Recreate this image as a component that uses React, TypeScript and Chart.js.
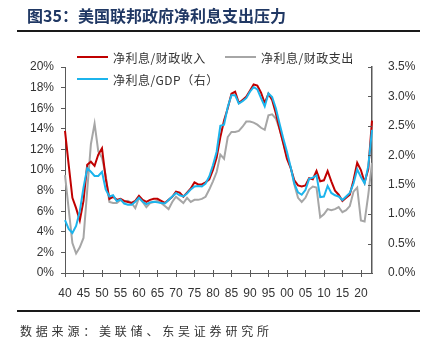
import React, { useEffect, useRef } from 'react';
import { Chart, registerables } from 'chart.js';

Chart.register(...registerables);

// ---- data ----
const years = [
  1940, 1941, 1942, 1943, 1944, 1945, 1946, 1947, 1948, 1949,
  1950, 1951, 1952, 1953, 1954, 1955, 1956, 1957, 1958, 1959,
  1960, 1961, 1962, 1963, 1964, 1965, 1966, 1967, 1968, 1969,
  1970, 1971, 1972, 1973, 1974, 1975, 1976, 1977, 1978, 1979,
  1980, 1981, 1982, 1983, 1984, 1985, 1986, 1987, 1988, 1989,
  1990, 1991, 1992, 1993, 1994, 1995, 1996, 1997, 1998, 1999,
  2000, 2001, 2002, 2003, 2004, 2005, 2006, 2007, 2008, 2009,
  2010, 2011, 2012, 2013, 2014, 2015, 2016, 2017, 2018, 2019,
  2020, 2021, 2022, 2023,
];

// 净利息/财政收入 (%), left axis
const interestToReceipts = [
  13.8, 10.5, 7.3, 6.3, 5.1, 7.0, 10.5, 10.8, 10.4, 11.5,
  12.1, 9.2, 7.2, 7.4, 7.1, 7.2, 7.0, 6.9, 6.8, 7.0,
  7.5, 7.1, 6.9, 7.1, 7.2, 7.2, 7.0, 6.8, 7.1, 7.4,
  7.9, 7.8, 7.4, 7.8, 8.2, 8.8, 8.6, 8.6, 8.8, 9.1,
  10.0, 11.2, 13.2, 14.8, 16.0, 17.4, 17.6, 16.5, 16.8, 17.1,
  17.7, 18.3, 18.2, 17.5, 16.5, 17.4, 16.8, 15.5, 14.0, 12.6,
  11.1, 10.2, 9.0, 8.5, 8.4, 8.5, 9.2, 9.1, 9.9, 8.9,
  9.0, 9.9, 8.9, 8.0, 7.6, 7.0, 7.3, 7.6, 9.0, 10.7,
  10.0, 8.8, 10.1, 14.8,
];

// 净利息/财政支出 (%), left axis
const interestToOutlays = [
  9.5, 6.2, 2.9, 1.9, 2.5, 3.4, 8.0, 12.5, 14.5, 11.8,
  11.2, 9.5, 6.9, 6.8, 6.8, 7.1, 6.9, 7.0, 6.8, 6.3,
  7.3, 6.9, 6.4, 6.8, 6.9, 7.0, 6.8, 6.5, 6.2, 6.9,
  7.4, 7.1, 6.8, 7.3, 6.9, 7.1, 7.1, 7.2, 7.4, 8.1,
  8.9, 9.8, 11.5, 11.1, 13.2, 13.7, 13.7, 13.8, 14.2, 14.7,
  14.7, 14.6, 14.4, 14.1, 13.9, 15.3, 15.4, 15.0, 14.0, 12.7,
  11.3, 10.3, 8.6, 7.3, 6.9, 7.3, 8.1, 8.4, 8.3, 5.4,
  5.7, 6.2, 6.1, 6.2, 6.4, 5.9, 6.1, 6.5, 7.9, 8.3,
  5.1, 5.0, 7.6, 10.7,
];

// 净利息/GDP (%), right axis
const interestToGdp = [
  0.90, 0.75, 0.68, 0.80, 1.05, 1.45, 1.78, 1.72, 1.65, 1.65,
  1.72, 1.42, 1.30, 1.32, 1.22, 1.25, 1.18, 1.16, 1.16, 1.21,
  1.28, 1.21, 1.17, 1.20, 1.21, 1.20, 1.19, 1.18, 1.24, 1.30,
  1.36, 1.32, 1.30, 1.35, 1.42, 1.47, 1.48, 1.47, 1.52, 1.64,
  1.83, 2.06, 2.50, 2.52, 2.82, 3.02, 3.02, 2.88, 2.92, 2.97,
  3.08, 3.16, 3.12, 2.97, 2.83, 3.05, 2.99, 2.80, 2.54, 2.29,
  2.06, 1.80, 1.52, 1.37, 1.33, 1.41, 1.60, 1.62, 1.66, 1.29,
  1.30, 1.48, 1.36, 1.32, 1.30, 1.24, 1.30, 1.36, 1.52, 1.76,
  1.63, 1.52, 1.82, 2.43,
];

const seriesNames = ['净利息/财政收入', '净利息/财政支出', '净利息/GDP（右）'];
const leftTicks = [0, 2, 4, 6, 8, 10, 12, 14, 16, 18, 20];
const rightTicks = [0, 0.5, 1.0, 1.5, 2.0, 2.5, 3.0, 3.5];

const titleText = '图35：美国联邦政府净利息支出压力';
const sourceText = '数据来源：美联储、东吴证券研究所';

// ---- styles ----
const RED = '#C00000';
const GRAY = '#A6A6A6';
const BLUE = '#1CB4EC';
const AXIS = '#595959';
const TEXT = '#333333';
const W = 426;
const H = 340;
const PLOT_LEFT = 65;
const PLOT_RIGHT = 372;
const PLOT_TOP = 67;
const PLOT_BOTTOM = 273;
const CJK = '"Noto Sans CJK SC", "Noto Sans", sans-serif';
const LATIN = '"Liberation Sans", Arial, sans-serif';

const legendLayout = [
  { x: 77, y: 57 },
  { x: 225, y: 57 },
  { x: 77, y: 79 },
];
const legendColors = [RED, GRAY, BLUE];

const overlayPlugin = {
  id: 'overlay',
  afterDraw(chart: any) {
    const ctx = chart.ctx as CanvasRenderingContext2D;
    const xs = chart.scales.x;
    const yr = chart.scales.y1;
    ctx.save();
    ctx.strokeStyle = AXIS;
    ctx.lineWidth = 1;
    // x axis crossing ticks every 5 years
    years.forEach((yv, i) => {
      if (yv % 5 === 0) {
        const px = Math.round(xs.getPixelForValue(i)) + 0.5;
        ctx.beginPath();
        ctx.moveTo(px, PLOT_BOTTOM - 3);
        ctx.lineTo(px, PLOT_BOTTOM + 4);
        ctx.stroke();
      }
    });
    // right axis inward ticks
    rightTicks.forEach((v) => {
      const py = Math.round(yr.getPixelForValue(v)) + 0.5;
      ctx.beginPath();
      ctx.moveTo(yr.left - 4, py);
      ctx.lineTo(yr.left, py);
      ctx.stroke();
    });
    // legend
    ctx.font = `12px ${CJK}`;
    (ctx as any).letterSpacing = '0.5px';
    ctx.textBaseline = 'middle';
    ctx.textAlign = 'left';
    seriesNames.forEach((name, i) => {
      const { x, y } = legendLayout[i];
      ctx.strokeStyle = legendColors[i];
      ctx.lineWidth = 2;
      ctx.beginPath();
      ctx.moveTo(x, y);
      ctx.lineTo(x + 31, y);
      ctx.stroke();
      ctx.fillStyle = TEXT;
      ctx.fillText(name, x + 36, y + 1);
    });
    ctx.restore();
  },
};

export default function App() {
  const canvasRef = useRef<HTMLCanvasElement | null>(null);

  useEffect(() => {
    if (!canvasRef.current) return;
    const chart = new Chart(canvasRef.current, {
      type: 'line',
      data: {
        labels: years,
        datasets: [
          {
            label: seriesNames[0],
            data: interestToReceipts,
            borderColor: RED,
            backgroundColor: RED,
            borderWidth: 2,
            pointRadius: 0,
            tension: 0,
            yAxisID: 'y',
            order: 1,
          },
          {
            label: seriesNames[1],
            data: interestToOutlays,
            borderColor: GRAY,
            backgroundColor: GRAY,
            borderWidth: 2,
            pointRadius: 0,
            tension: 0,
            yAxisID: 'y',
            order: 2,
          },
          {
            label: seriesNames[2],
            data: interestToGdp,
            borderColor: BLUE,
            backgroundColor: BLUE,
            borderWidth: 2,
            pointRadius: 0,
            tension: 0,
            yAxisID: 'y1',
            order: 0,
          },
        ],
      },
      options: {
        animation: false,
        responsive: true,
        maintainAspectRatio: false,
        layout: { padding: { top: PLOT_TOP, left: 0, right: 0, bottom: 0 } },
        plugins: {
          legend: { display: false },
          tooltip: { enabled: false },
          title: { display: false },
        },
        scales: {
          x: {
            type: 'category',
            offset: false,
            grid: { display: false },
            border: { display: true, color: AXIS, width: 1 },
            ticks: {
              autoSkip: false,
              maxRotation: 0,
              minRotation: 0,
              padding: 5,
              color: TEXT,
              font: { family: LATIN, size: 12 },
              callback: (_v: any, i: number) =>
                years[i] % 5 === 0 ? String(years[i]).slice(-2) : '',
            },
            afterFit: (s: any) => {
              s.height = H - PLOT_BOTTOM;
            },
          },
          y: {
            position: 'left',
            min: 0,
            max: 20,
            afterBuildTicks: (s: any) => {
              s.ticks = leftTicks.map((v) => ({ value: v }));
            },
            grid: {
              display: true,
              drawOnChartArea: false,
              drawTicks: true,
              tickLength: 4,
              color: AXIS,
            },
            border: { display: true, color: AXIS, width: 1 },
            ticks: {
              padding: 7,
              color: TEXT,
              font: { family: LATIN, size: 12 },
              callback: (v: any) => `${v}%`,
            },
            afterFit: (s: any) => {
              s.width = PLOT_LEFT;
            },
          },
          y1: {
            position: 'right',
            min: 0,
            max: 3.5,
            afterBuildTicks: (s: any) => {
              s.ticks = rightTicks.map((v) => ({ value: v }));
            },
            grid: { display: false, drawOnChartArea: false },
            border: { display: true, color: AXIS, width: 1.5 },
            ticks: {
              padding: 8,
              color: TEXT,
              font: { family: LATIN, size: 12 },
              callback: (v: any) => `${Number(v).toFixed(1)}%`,
            },
            afterFit: (s: any) => {
              s.width = W - PLOT_RIGHT;
            },
          },
        },
      },
      plugins: [overlayPlugin],
    } as any);
    return () => chart.destroy();
  }, []);

  return (
    <div
      style={{
        position: 'absolute',
        left: 0,
        top: 0,
        width: W,
        height: H,
        background: '#ffffff',
        overflow: 'hidden',
      }}
    >
      <div style={{ position: 'absolute', left: 0, top: 0, width: W, height: H }}>
        <canvas ref={canvasRef} />
      </div>
      <div
        style={{
          position: 'absolute',
          left: 27,
          top: 5,
          fontFamily: CJK,
          fontWeight: 700,
          fontSize: 16,
          lineHeight: '20px',
          letterSpacing: '0px',
          color: '#203864',
          whiteSpace: 'nowrap',
        }}
      >
        {titleText}
      </div>
      <div
        style={{
          position: 'absolute',
          left: 17,
          top: 30,
          width: 403,
          height: 2,
          background: '#1a1a1a',
        }}
      />
      <div
        style={{
          position: 'absolute',
          left: 17,
          top: 310,
          width: 403,
          height: 1.5,
          background: '#1a1a1a',
        }}
      />
      <div
        style={{
          position: 'absolute',
          left: 20,
          top: 323,
          fontFamily: CJK,
          fontSize: 12,
          lineHeight: '16px',
          letterSpacing: '3.8px',
          color: TEXT,
          whiteSpace: 'nowrap',
        }}
      >
        {sourceText}
      </div>
    </div>
  );
}
